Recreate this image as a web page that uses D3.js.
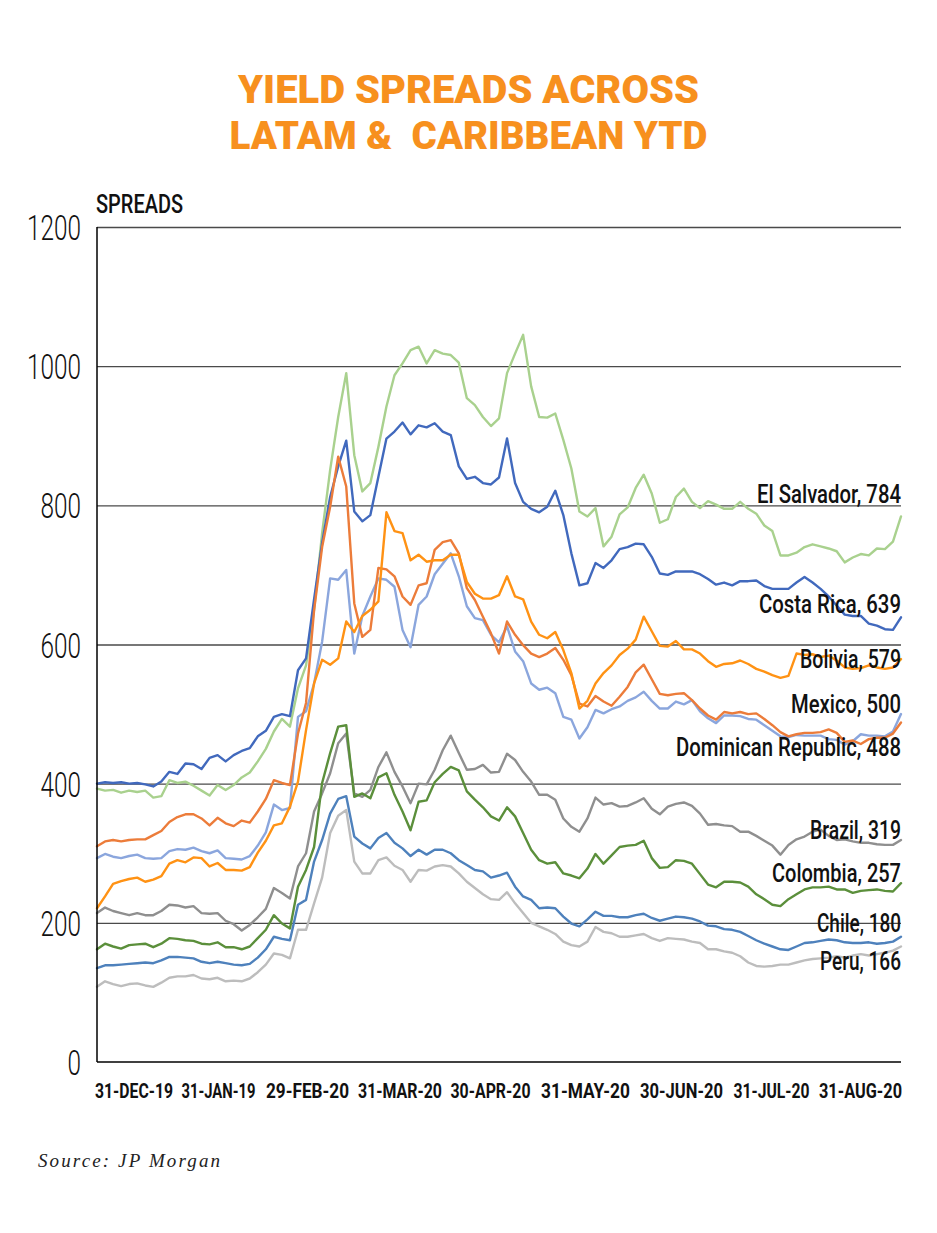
<!DOCTYPE html>
<html><head><meta charset="utf-8">
<script src="https://cdn.jsdelivr.net/npm/d3@7"></script>
<style>
html,body{margin:0;padding:0;background:#fff;}
svg{display:block;}
</style></head>
<body>
<svg id="chart" width="937" height="1233"></svg>
<script>
// ---------------- DATA ----------------
const titleLines = ["YIELD SPREADS ACROSS", "LATAM &  CARIBBEAN YTD"];
const yAxisTitle = "SPREADS";
const sourceText = "Source: JP Morgan";
const xTickLabels = ["31-DEC-19","31-JAN-19","29-FEB-20","31-MAR-20","30-APR-20","31-MAY-20","30-JUN-20","31-JUL-20","31-AUG-20"];
const yTicks = [0, 200, 400, 600, 800, 1000, 1200];
const countries = ["El Salvador","Costa Rica","Bolivia","Mexico","Dominican Republic","Brazil","Colombia","Chile","Peru"];
const lastValues = [784, 639, 579, 500, 488, 319, 257, 180, 166];

const elSalvador = [393,390,391,387,390,388,390,380,382,405,401,403,397,390,383,398,391,398,409,416,432,450,475,493,
 482,537,570,650,760,851,927,990,872,820,832,884,942,987,1004,1023,1028,1004,1023,1018,
 1016,1005,954,944,927,914,925,990,1018,1045,971,927,926,932,894,853,791,784,796,741,
 755,787,797,825,844,817,775,780,812,824,805,796,806,801,795,795,805,795,788,
 771,763,728,728,732,740,744,741,738,734,718,725,730,728,738,737,748,784];
const costaRica = [400,402,401,402,400,401,399,396,403,417,414,429,428,421,437,441,432,441,447,451,468,476,496,500,
 497,563,580,665,746,812,856,893,791,777,786,841,896,906,919,902,915,912,918,906,
 901,856,838,841,832,830,840,896,832,805,795,790,798,821,786,731,685,688,717,710,
 721,737,740,745,744,726,702,700,705,705,705,701,694,686,689,685,691,691,692,
 684,680,680,680,689,697,689,680,669,656,643,641,641,630,627,622,621,639];
const bolivia = [221,238,256,260,263,265,259,262,267,285,290,287,294,293,281,286,276,276,275,280,301,318,340,343,
 367,403,477,544,578,571,580,633,618,641,650,662,790,763,760,721,729,719,721,721,
 729,729,690,673,666,666,671,698,669,665,633,614,609,618,592,559,508,519,544,559,
 570,585,594,607,640,619,598,597,605,593,593,587,576,568,572,573,577,572,565,
 561,556,552,555,587,585,586,582,584,577,567,565,566,570,567,565,567,579];
const mexico = [293,299,295,293,296,298,293,292,293,303,306,305,308,303,300,304,293,292,291,296,311,330,370,362,
 365,496,504,544,604,695,693,707,587,641,669,695,693,683,621,596,657,669,701,716,
 731,698,655,638,635,614,603,626,590,576,544,535,538,530,496,492,465,481,506,501,
 507,511,519,524,532,519,508,508,518,514,520,504,494,487,498,498,497,493,492,
 484,476,468,467,470,469,469,469,464,463,456,461,471,469,469,468,475,500];
const dominicanRepublic = [310,317,319,317,319,320,320,326,332,345,352,356,356,350,340,351,343,339,347,344,360,378,405,401,
 398,472,516,649,740,798,870,827,659,611,621,710,708,698,669,657,685,688,736,747,
 750,731,681,664,640,616,587,633,614,599,587,582,587,595,578,556,515,511,526,518,
 512,525,539,560,571,550,529,527,529,530,520,508,498,492,503,501,503,500,501,
 493,484,474,468,471,473,473,474,478,473,460,462,457,464,466,466,472,488];
const brazil = [214,222,217,214,211,214,211,211,217,226,225,222,224,214,213,214,203,198,189,197,208,220,250,243,
 235,281,300,360,386,415,458,472,386,381,391,424,445,417,396,372,400,399,420,448,
 469,444,420,421,427,416,417,443,434,417,403,384,384,377,350,338,331,350,380,370,
 372,367,368,373,379,364,356,367,371,373,368,357,341,342,340,339,331,331,325,
 318,311,298,312,320,324,331,334,325,319,320,317,315,315,313,312,312,319];
const colombia = [162,170,166,163,168,169,170,165,170,178,177,175,174,170,169,172,165,165,162,166,178,190,211,199,
 192,252,276,309,401,444,482,484,381,386,379,409,415,384,360,333,374,376,402,414,
 424,419,389,377,366,353,347,366,353,329,305,290,285,287,271,268,264,278,299,285,
 297,309,311,312,318,293,279,280,290,289,285,270,255,251,259,259,258,252,241,
 234,226,224,234,241,248,251,251,252,248,248,243,246,247,248,246,245,257];
const chile = [135,139,139,140,141,142,143,142,146,151,151,150,149,144,142,144,142,140,139,141,150,162,180,177,
 175,226,233,288,319,357,378,382,324,314,307,322,329,315,307,296,305,298,305,305,
 300,290,283,276,274,265,268,272,252,238,233,221,222,221,209,199,195,205,216,210,
 210,208,208,211,213,207,203,206,209,208,206,202,196,195,191,190,187,181,175,
 170,166,162,161,166,171,172,174,176,175,172,171,171,172,170,171,173,180];
const peru = [108,116,112,109,112,113,110,108,114,121,123,123,125,120,119,121,116,117,116,120,129,140,156,154,
 149,190,190,228,265,329,354,362,288,271,271,290,294,282,276,259,276,275,281,283,
 281,271,259,250,241,234,233,244,228,214,200,195,190,184,173,168,166,173,194,187,
 185,180,180,182,184,178,174,178,177,176,173,171,162,162,159,157,152,143,138,
 137,138,140,140,143,146,148,149,150,152,150,153,155,153,155,157,160,166];

const seriesValues = [elSalvador, costaRica, bolivia, mexico, dominicanRepublic, brazil, colombia, chile, peru];

// ---------------- STYLE / LAYOUT ----------------
const colors = ["#A9D18E","#4169BD","#FF9214","#8BA6DD","#EC7C3A","#8F8F8F","#5B8F3B","#4E81BC","#BDBDBD"];
const drawOrder = [0,1,3,4,2,8,7,5,6];
const labelBaselines = [503, 613, 668, 713, 756, 839, 882, 932, 970];
const labelWidths = [144, 142, 101, 110, 225, 91, 129, 84, 81];
const xLabelCenters = [133.5, 218, 307, 399.5, 490, 585, 681, 771, 860];
const xLabelWidths = [78, 74, 83, 84, 80, 89, 83, 76, 83];
const plot = {left: 97, right: 901, top: 227, bottom: 1062};
const orange = "#F7901E";
const condensed = "Roboto, 'Liberation Sans', Arial, sans-serif";

const svg = d3.select("#chart");
const nPts = elSalvador.length;

const x = d3.scaleLinear().domain([0, nPts - 1]).range([plot.left, plot.right]);
const y = d3.scaleLinear().domain([0, 1200]).range([plot.bottom, plot.top]);
const xLab = d3.scaleOrdinal().domain(xTickLabels).range(xLabelCenters);

// Title
svg.append("g").selectAll("text").data(titleLines).join("text")
  .attr("x", 468.5)
  .attr("y", (d, i) => i === 0 ? 103 : 149)
  .attr("text-anchor", "middle")
  .attr("font-family", condensed)
  .attr("font-weight", 900)
  .attr("font-size", 38)
  .attr("fill", orange)
  .attr("textLength", (d, i) => i === 0 ? 461 : 478)
  .attr("lengthAdjust", "spacingAndGlyphs")
  .style("white-space", "pre")
  .text(d => d);

// Gridlines
const grid = svg.append("g").attr("transform", `translate(${plot.left},0)`)
  .call(d3.axisLeft(y).tickValues(yTicks.filter(v => v > 0)).tickSize(-(plot.right - plot.left)).tickFormat(""));
grid.select(".domain").remove();
grid.selectAll(".tick line").attr("stroke", "#4a4a4a").attr("stroke-width", 1.3);

// Y tick labels
const yAx = svg.append("g").attr("transform", `translate(${plot.left},0)`)
  .call(d3.axisLeft(y).tickValues(yTicks).tickSize(0).tickPadding(16).tickFormat(d3.format("d")));
yAx.select(".domain").remove();
yAx.selectAll(".tick text")
  .attr("font-family", condensed)
  .attr("font-weight", 300)
  .attr("font-size", 35)
  .attr("fill", "#111")
  .attr("dy", "0.36em")
  .attr("textLength", d => String(d).length * 13.5)
  .attr("lengthAdjust", "spacingAndGlyphs");

// Lines
const line = d3.line().x((d, i) => x(i)).y(d => y(d));
svg.append("g").selectAll("path").data(drawOrder).join("path")
  .attr("d", k => line(seriesValues[k]))
  .attr("fill", "none")
  .attr("stroke", k => colors[k])
  .attr("stroke-width", 2.4)
  .attr("stroke-linejoin", "round")
  .attr("stroke-linecap", "round");

// Axis lines
svg.append("line").attr("x1", plot.left).attr("x2", plot.left).attr("y1", plot.top).attr("y2", plot.bottom)
  .attr("stroke", "#000").attr("stroke-width", 1.5);
svg.append("line").attr("x1", plot.left).attr("x2", plot.right).attr("y1", plot.bottom).attr("y2", plot.bottom)
  .attr("stroke", "#000").attr("stroke-width", 1.5);

// X tick labels
const xAx = svg.append("g").attr("transform", `translate(0,${plot.bottom})`)
  .call(d3.axisBottom(xLab).tickSize(0));
xAx.select(".domain").remove();
xAx.selectAll(".tick text")
  .attr("y", 36).attr("dy", 0)
  .attr("font-family", condensed)
  .attr("font-weight", 700)
  .attr("font-size", 21)
  .attr("fill", "#111")
  .attr("textLength", d => xLabelWidths[xTickLabels.indexOf(d)])
  .attr("lengthAdjust", "spacingAndGlyphs");

// Y axis title
svg.append("text").attr("x", 96).attr("y", 213)
  .attr("font-family", condensed).attr("font-weight", 500).attr("font-size", 26)
  .attr("fill", "#111").attr("textLength", 87).attr("lengthAdjust", "spacingAndGlyphs")
  .text(yAxisTitle);

// End labels
svg.append("g").selectAll("text").data(countries).join("text")
  .attr("x", plot.right)
  .attr("y", (d, i) => labelBaselines[i])
  .attr("text-anchor", "end")
  .attr("font-family", condensed)
  .attr("font-weight", 500)
  .attr("font-size", 26)
  .attr("fill", "#111")
  .attr("textLength", (d, i) => labelWidths[i])
  .attr("lengthAdjust", "spacingAndGlyphs")
  .text((d, i) => `${d}, ${lastValues[i]}`);

// Source
svg.append("text").attr("x", 38).attr("y", 1167)
  .attr("font-family", "'Liberation Serif', 'DejaVu Serif', serif")
  .attr("font-style", "italic").attr("font-size", 19).attr("fill", "#222")
  .attr("textLength", 182).attr("lengthAdjust", "spacing")
  .text(sourceText);
</script>
</body></html>
